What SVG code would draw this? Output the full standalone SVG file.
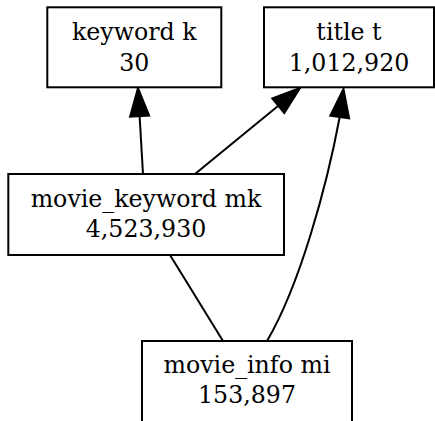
<svg xmlns="http://www.w3.org/2000/svg" width="435" height="421" viewBox="0 0 435 421">
<style>
.box{fill:#fff;stroke:#000;stroke-width:2}
.lbl{font-family:"DejaVu Serif",serif;font-size:23.7px;text-anchor:middle;fill:#000}
.edge{fill:none;stroke:#000;stroke-width:2}
.head{fill:#000;stroke:#000;stroke-width:2}
</style>
<rect width="435" height="421" fill="#fff"/>
<g id="connectors">
<path class="edge" d="M143,174 L139.6,116"/>
<polygon class="head" points="138,88 130.1,116.6 149.1,115.5"/>
<path class="edge" d="M195,174 L278.3,105.7"/>
<polygon class="head" points="300,88 272.3,98.4 284.3,113.1"/>
<path class="edge" d="M267,341 C300,285 327,185 339.7,117"/>
<polygon class="head" points="343.5,89 330.3,115.7 349.1,118.3"/>
<path class="edge" d="M170,255 L223,341"/>
</g>
<g id="keyword">
<rect class="box" x="47.3" y="7.3" width="174" height="80"/>
<text class="lbl" x="134.3" y="40">keyword k</text>
<text class="lbl" x="134.3" y="70.5">30</text>
</g>
<g id="title">
<rect class="box" x="264" y="7.3" width="170" height="80"/>
<text class="lbl" x="349" y="40">title t</text>
<text class="lbl" x="349" y="70.5">1,012,920</text>
</g>
<g id="movie_keyword">
<rect class="box" x="8.3" y="174" width="275.7" height="81"/>
<text class="lbl" x="146" y="206.7">movie_keyword mk</text>
<text class="lbl" x="146" y="237">4,523,930</text>
</g>
<g id="movie_info">
<rect class="box" x="142" y="341" width="210" height="81"/>
<text class="lbl" x="247" y="372.5">movie_info mi</text>
<text class="lbl" x="247" y="403">153,897</text>
</g>
</svg>
